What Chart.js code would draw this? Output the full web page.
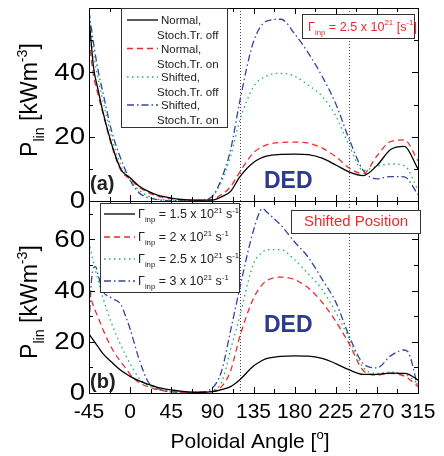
<!DOCTYPE html>
<html>
<head>
<meta charset="utf-8">
<script src="https://cdn.jsdelivr.net/npm/chart.js@4.4.0/dist/chart.umd.min.js"></script>
<style>
html, body { margin: 0; padding: 0; background: #fff; }
#wrap { position: relative; width: 444px; height: 456px; }
canvas { position: absolute; left: 0; top: 0; }
</style>
</head>
<body>
<div id="wrap">
  <canvas id="panelA" width="444" height="456"></canvas>
  <canvas id="panelB" width="444" height="456"></canvas>
</div>
<script>
// poloidal angle grid (deg) and P_lin (kW m^-3), panel (a)
var anglesA = [-45,-40,-35,-30,-20,-10,0,10,20,30,45,60,75,90,100,110,120,135,150,165,180,195,210,225,240,255,270,285,300,315];
var normalOff  = [57,41.5,34.5,28,17.5,9.8,7.2,4.6,3,1.8,0.9,0.4,0.3,0.3,1.3,3,7.5,12,14,14.5,14.6,14.4,13.3,11.2,9,7.9,11,16,17,10];
var normalOn   = [50,39,33,27.5,17,9.5,6.8,4.3,2.6,1.5,0.7,0.3,0.2,0.5,2,4.5,9,15,17.5,18.2,18.3,18,16.5,13.8,10.2,8.5,14,18.5,19,12.5];
var shiftedOff = [59,46,38,31.5,19.5,11,6.5,3.3,1.5,0.6,0.2,0.1,0.1,1.5,6,14,25,35.5,39,39.7,38.8,36,32.6,26.5,17,9.5,10.8,11.5,11,3.5];
var shiftedOn  = [59,49,40.5,34,21.5,13,6.5,2.5,1,0.4,0.1,0.1,0.2,1.5,7,16,31,49.5,56,56.5,52,46,38.8,30.2,19,9.5,6.9,7.6,7.5,2];

// panel (b): shifted position, different input fluxes
var anglesB = [-45,-42,-38,-35,-30,-20,-10,-5,0,10,20,30,45,60,75,90,100,110,120,135,145,150,165,180,195,210,225,240,255,270,285,300,305,315];
var gamma15 = [23,21.5,19.5,18,15.5,12,8.8,7.6,6.5,4.7,3.4,2.2,1.2,0.5,0.3,0.5,1.3,2.5,5.2,10.5,12.8,13.5,14.3,14.5,14.4,13.5,11.5,9,7.3,7.3,7.8,7.7,7.3,5];
var gamma20 = [40,36,32,29.5,25,17.5,12,9.8,7.3,4,2.4,1.3,0.5,0.2,0.1,0.5,2.5,8.7,22,37,42.5,44,45.3,44.3,41,35.5,28,19,8.8,7,7.7,6.6,5.5,2.5];
var gamma25 = [59,54,48,44,37.5,27,18.5,14.8,11.5,5.7,3,1.4,0.4,0.1,0.1,1,4,17,30,50.5,55,56,56,52,46.5,40.5,31.5,21,10,7.7,8.2,7.2,6.5,3.5];
var gamma30 = [26,45,49.5,46,40,37,34.5,30,25,13,4.2,1.8,0.5,0.2,0.3,2,8.5,24.5,41,63.5,72,70.5,65.5,59,53,44.5,35.5,22,11.5,9.8,14.5,16.8,15.5,2];

var xTicks = [-45,0,45,90,135,180,225,270,315];
var yTicksA = [0,20,40];
var yTicksB = [0,20,40,60];
var dedLines = [120,240];
var labelsA = [['Normal,','Stoch.Tr. off'],['Normal,','Stoch.Tr. on'],['Shifted,','Stoch.Tr. off'],['Shifted,','Stoch.Tr. on']];
var fluxes = ['1.5','2','2.5','3'];

var FONT = '"Liberation Sans", Arial, sans-serif';
var styles = [
  {color: '#000000', dash: []},
  {color: '#ee2a2a', dash: [6,4]},
  {color: '#13b56a', dash: [1.5,3.5]},
  {color: '#3343a3', dash: [7,3,1.5,3]}
];

function pts(xs, ys) {
  return xs.map(function (a, i) { return {x: a, y: ys[i]}; });
}

function series(xs, list) {
  return list.map(function (ys, i) {
    return {
      data: pts(xs, ys),
      borderColor: styles[i].color,
      borderDash: styles[i].dash,
      borderWidth: 1.3,
      pointRadius: 0,
      cubicInterpolationMode: 'monotone',
      fill: false
    };
  });
}

// text with sub/superscripts: parts = [{t:'P'},{t:'lin',s:'sub'},...]
function richWidth(ctx, parts, size) {
  var w = 0;
  parts.forEach(function (p) {
    ctx.font = (p.s ? size * 0.62 : size) + 'px ' + FONT;
    w += ctx.measureText(p.t).width;
  });
  return w;
}
function drawRich(ctx, parts, x, y, size, color) {
  ctx.fillStyle = color;
  ctx.textAlign = 'left';
  ctx.textBaseline = 'alphabetic';
  parts.forEach(function (p) {
    var sz = p.s ? size * 0.62 : size;
    var dy = p.s === 'sub' ? size * 0.32 : (p.s === 'sup' ? -size * 0.42 : 0);
    ctx.font = sz + 'px ' + FONT;
    ctx.fillText(p.t, x, y + dy);
    x += ctx.measureText(p.t).width;
  });
}

function gammaParts(v) {
  return [{t: '\u0393'}, {t: 'inp', s: 'sub'}, {t: ' = ' + v + ' x 10'}, {t: '21', s: 'sup'}, {t: ' s'}, {t: '-1', s: 'sup'}];
}

function sample(ctx, i, x0, x1, y) {
  ctx.save();
  ctx.strokeStyle = styles[i].color;
  ctx.setLineDash(styles[i].dash);
  ctx.lineWidth = 1.3;
  ctx.beginPath();
  ctx.moveTo(x0, y);
  ctx.lineTo(x1, y);
  ctx.stroke();
  ctx.restore();
}

function box(ctx, x0, y0, x1, y1) {
  ctx.fillStyle = '#fff';
  ctx.fillRect(x0, y0, x1 - x0, y1 - y0);
  ctx.strokeStyle = '#333';
  ctx.lineWidth = 1;
  ctx.strokeRect(x0 + 0.5, y0 + 0.5, x1 - x0, y1 - y0);
}

// frame, inward ticks, labels and annotations for one panel
function panelPlugin(o) {
  return {
    id: 'panel' + o.name,
    beforeDatasetsDraw: function (chart) {
      var ctx = chart.ctx, a = chart.chartArea, xs = chart.scales.x;
      ctx.save();
      ctx.strokeStyle = '#444';
      ctx.lineWidth = 1;
      ctx.setLineDash([1, 2]);
      dedLines.forEach(function (v) {
        var px = Math.round(xs.getPixelForValue(v)) + 0.5;
        ctx.beginPath();
        ctx.moveTo(px, a.top);
        ctx.lineTo(px, a.bottom);
        ctx.stroke();
      });
      ctx.restore();
    },
    afterDraw: function (chart) {
      var ctx = chart.ctx, a = chart.chartArea, xs = chart.scales.x, ys = chart.scales.y;
      ctx.save();
      ctx.strokeStyle = '#000';
      ctx.lineWidth = 1;
      ctx.strokeRect(a.left + 0.5, a.top + 0.5, a.right - a.left, a.bottom - a.top);

      ctx.beginPath();
      for (var v = -45; v <= 315; v += 22.5) {
        var px = Math.round(xs.getPixelForValue(v)) + 0.5;
        var len = (v + 45) % 45 === 0 ? 6 : 4;
        ctx.moveTo(px, a.bottom); ctx.lineTo(px, a.bottom - len);
        ctx.moveTo(px, a.top); ctx.lineTo(px, a.top + len);
      }
      for (var w = 0; w <= o.ymax; w += 10) {
        var py = Math.round(ys.getPixelForValue(w)) + 0.5;
        var l2 = w % 20 === 0 ? 6 : 4;
        ctx.moveTo(a.left, py); ctx.lineTo(a.left + l2, py);
        ctx.moveTo(a.right, py); ctx.lineTo(a.right - l2, py);
      }
      ctx.stroke();

      // y tick labels
      ctx.fillStyle = '#000';
      ctx.font = '23px ' + FONT;
      ctx.textAlign = 'right';
      ctx.textBaseline = 'middle';
      o.yTicks.forEach(function (t) {
        var py = ys.getPixelForValue(t);
        ctx.save();
        ctx.translate(85, py + 1);
        ctx.scale(1.2, 1);
        ctx.fillText(String(t), 0, 0);
        ctx.restore();
      });

      // y title, rotated
      var yt = [{t: 'P'}, {t: 'lin', s: 'sub'}, {t: ' [kWm'}, {t: '-3', s: 'sup'}, {t: ']'}];
      var tw = richWidth(ctx, yt, 23);
      ctx.save();
      ctx.translate(37, o.titleY);
      ctx.rotate(-Math.PI / 2);
      drawRich(ctx, yt, -tw / 2, 0, 23, '#000');
      ctx.restore();

      // panel tag and DED
      ctx.fillStyle = '#222';
      ctx.font = 'bold 20px ' + FONT;
      ctx.textAlign = 'left';
      ctx.textBaseline = 'middle';
      ctx.fillText(o.tag, 90, o.tagY);
      ctx.fillStyle = '#2b3a8f';
      ctx.font = 'bold 23px ' + FONT;
      ctx.fillText('DED', 264, o.dedY);

      o.extra(ctx, chart);
      ctx.restore();
    }
  };
}

function makeChart(id, xs, list, ymax, pad, opts) {
  return new Chart(document.getElementById(id), {
    type: 'line',
    data: { datasets: series(xs, list) },
    options: {
      responsive: false,
      animation: false,
      devicePixelRatio: 1,
      layout: { padding: pad },
      scales: {
        x: { type: 'linear', min: -45, max: 315, display: false },
        y: { min: 0, max: ymax, display: false }
      },
      plugins: { legend: { display: false }, tooltip: { enabled: false } }
    },
    plugins: [panelPlugin(opts)]
  });
}

makeChart('panelA', anglesA, [normalOff, normalOn, shiftedOff, shiftedOn], 60,
  {left: 89, right: 26, top: 8, bottom: 255},
  {name: 'A', ymax: 60, yTicks: yTicksA, titleY: 100, tag: '(a)', tagY: 184, dedY: 182,
   extra: function (ctx) {
     box(ctx, 121, 8, 227, 127);
     var ly = [20, 48.5, 77, 105];
     ctx.font = '11.5px ' + FONT;
     ctx.fillStyle = '#222';
     ctx.textBaseline = 'middle';
     ctx.textAlign = 'left';
     labelsA.forEach(function (lab, i) {
       sample(ctx, i, 127, 158, ly[i]);
       ctx.fillText(lab[0], 161, ly[i] + 1);
       ctx.fillText(lab[1], 157, ly[i] + 16);
     });
     box(ctx, 302, 14, 414, 38);
     var gp = [{t: '\u0393'}, {t: 'inp', s: 'sub'}, {t: ' = 2.5 x 10'}, {t: '21', s: 'sup'}, {t: ' [s'}, {t: '-1', s: 'sup'}, {t: ']'}];
     drawRich(ctx, gp, 308, 30.5, 12.6, '#ee2a2a');
   }});

makeChart('panelB', anglesB, [gamma15, gamma20, gamma25, gamma30], 75,
  {left: 89, right: 26, top: 201, bottom: 63},
  {name: 'B', ymax: 75, yTicks: yTicksB, titleY: 302, tag: '(b)', tagY: 382, dedY: 326,
   extra: function (ctx, chart) {
     box(ctx, 100, 203, 239, 292);
     var ly = [214, 237, 259, 281];
     fluxes.forEach(function (f, i) {
       sample(ctx, i, 104, 135, ly[i]);
       drawRich(ctx, gammaParts(f), 138, ly[i] + 4, 12.5, '#222');
     });
     box(ctx, 291, 210, 420, 233);
     ctx.fillStyle = '#ee2a2a';
     ctx.font = '15px ' + FONT;
     ctx.textAlign = 'center';
     ctx.textBaseline = 'middle';
     ctx.fillText('Shifted Position', 356, 222);

     // shared x axis labels and title
     var xs = chart.scales.x;
     ctx.fillStyle = '#000';
     ctx.font = '21px ' + FONT;
     ctx.textAlign = 'center';
     ctx.textBaseline = 'middle';
     xTicks.forEach(function (t) {
       ctx.fillText(String(t), xs.getPixelForValue(t), 412);
     });
     var xt = [{t: 'Poloidal Angle ['}, {t: 'o', s: 'sup'}, {t: ']'}];
     var w = richWidth(ctx, xt, 21);
     drawRich(ctx, xt, 250 - w / 2, 448, 21, '#000');
   }});
</script>
</body>
</html>
